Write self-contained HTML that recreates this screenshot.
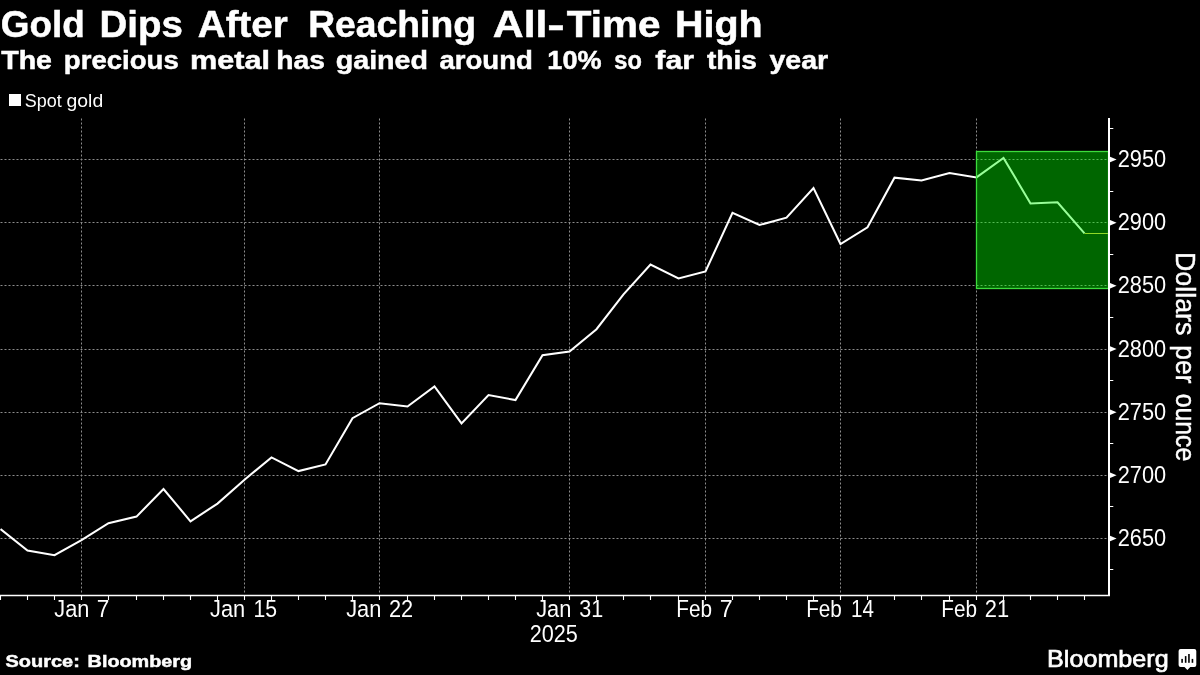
<!DOCTYPE html>
<html><head><meta charset="utf-8"><title>Gold Dips After Reaching All-Time High</title>
<style>
html,body{margin:0;padding:0;background:#000;}
body{width:1200px;height:675px;overflow:hidden;font-family:"Liberation Sans",sans-serif;}
svg{display:block;font-family:"Liberation Sans",sans-serif;}
</style></head>
<body>
<svg width="1200" height="675" viewBox="0 0 1200 675">
<rect width="1200" height="675" fill="#000"/>
<g stroke="#8c8c8c" stroke-width="1" stroke-dasharray="2 2" fill="none">
<line x1="81.5" y1="118.5" x2="81.5" y2="594.5"/>
<line x1="244.5" y1="118.5" x2="244.5" y2="594.5"/>
<line x1="379.5" y1="118.5" x2="379.5" y2="594.5"/>
<line x1="569.5" y1="118.5" x2="569.5" y2="594.5"/>
<line x1="705.5" y1="118.5" x2="705.5" y2="594.5"/>
<line x1="840.5" y1="118.5" x2="840.5" y2="594.5"/>
<line x1="976.5" y1="118.5" x2="976.5" y2="594.5"/>
<line x1="0.5" y1="159.5" x2="1108" y2="159.5"/>
<line x1="0.5" y1="222.5" x2="1108" y2="222.5"/>
<line x1="0.5" y1="285.5" x2="1108" y2="285.5"/>
<line x1="0.5" y1="349.5" x2="1108" y2="349.5"/>
<line x1="0.5" y1="412.5" x2="1108" y2="412.5"/>
<line x1="0.5" y1="475.5" x2="1108" y2="475.5"/>
<line x1="0.5" y1="538.5" x2="1108" y2="538.5"/>
</g>
<polyline points="0.5,529.0 27.5,550.5 54.5,555.2 81.5,540.2 108.5,523.2 136.5,516.6 163.5,489.0 190.5,521.3 217.5,503.6 244.5,479.7 271.5,457.4 298.5,471.1 325.5,464.4 352.5,418.2 379.5,403.2 407.5,406.5 434.5,386.4 461.5,423.4 488.5,395.1 515.5,400.1 542.5,355.3 569.5,351.6 596.5,329.2 623.5,294.4 650.5,264.6 678.5,278.4 705.5,271.5 732.5,212.8 759.5,225.0 786.5,217.7 813.5,188.0 840.5,244.0 867.5,227.3 894.5,177.7 921.5,180.5 949.5,173.1 976.5,177.4 1003.5,157.9 1030.5,203.4 1057.5,202.3 1084.5,233.3" fill="none" stroke="#fff" stroke-width="2.05" stroke-linejoin="miter" stroke-linecap="butt"/>
<line x1="1084.5" y1="233.5" x2="1108" y2="233.5" stroke="#f0c040" stroke-width="1"/>
<rect x="976.5" y="151.5" width="132" height="137" fill="rgba(0,255,0,0.4)" stroke="#3cdc3c" stroke-width="1.3"/>
<g stroke="#fff" fill="none">
<path d="M1109 118 V596.1" stroke-width="2"/>
<path d="M0 595.5 H1110" stroke-width="1.3"/>
<path d="M0.5 596 v4 M27.5 596 v4 M54.5 596 v4 M81.5 596 v4 M108.5 596 v4 M136.5 596 v4 M163.5 596 v4 M190.5 596 v4 M217.5 596 v4 M244.5 596 v4 M271.5 596 v4 M298.5 596 v4 M325.5 596 v4 M352.5 596 v4 M379.5 596 v4 M407.5 596 v4 M434.5 596 v4 M461.5 596 v4 M488.5 596 v4 M515.5 596 v4 M542.5 596 v4 M569.5 596 v4 M596.5 596 v4 M623.5 596 v4 M650.5 596 v4 M678.5 596 v4 M705.5 596 v4 M732.5 596 v4 M759.5 596 v4 M786.5 596 v4 M813.5 596 v4 M840.5 596 v4 M867.5 596 v4 M894.5 596 v4 M921.5 596 v4 M949.5 596 v4 M976.5 596 v4 M1003.5 596 v4 M1030.5 596 v4 M1057.5 596 v4 M1084.5 596 v4 " stroke-width="1.1"/>
<path d="M1110 128.5 h3.3 M1110 191.5 h3.3 M1110 254.5 h3.3 M1110 317.5 h3.3 M1110 380.5 h3.3 M1110 443.5 h3.3 M1110 506.5 h3.3 M1110 569.5 h3.3 " stroke-width="1.1"/>
</g>
<g fill="#fff"><path d="M1109.5 156.50 L1116.6 159.50 L1109.5 162.50 Z"/><path d="M1109.5 219.67 L1116.6 222.67 L1109.5 225.67 Z"/><path d="M1109.5 282.84 L1116.6 285.84 L1109.5 288.84 Z"/><path d="M1109.5 346.01 L1116.6 349.01 L1109.5 352.01 Z"/><path d="M1109.5 409.18 L1116.6 412.18 L1109.5 415.18 Z"/><path d="M1109.5 472.35 L1116.6 475.35 L1109.5 478.35 Z"/><path d="M1109.5 535.52 L1116.6 538.52 L1109.5 541.52 Z"/></g>
<rect x="9" y="94" width="12" height="12" fill="#fff"/>
<g fill="#fff" font-family="Liberation Sans, sans-serif" xml:space="preserve" opacity="0.999">
<text transform="translate(0.78,37.00) scale(0.9956,1)" font-size="37.03" font-weight="bold" stroke="#fff" stroke-width="0.5">Gold</text>
<text transform="translate(99.56,37.00) scale(1.0383,1)" font-size="37.03" font-weight="bold" stroke="#fff" stroke-width="0.5">Dips</text>
<text transform="translate(197.79,37.00) scale(1.0413,1)" font-size="37.03" font-weight="bold" stroke="#fff" stroke-width="0.5">After</text>
<text transform="translate(308.14,37.00) scale(1.0078,1)" font-size="37.03" font-weight="bold" stroke="#fff" stroke-width="0.5">Reaching</text>
<text transform="translate(492.87,37.00) scale(1.1535,1)" font-size="37.03" font-weight="bold" stroke="#fff" stroke-width="0.5">All</text>
<text transform="translate(547.27,37.00) scale(1.4043,1)" font-size="37.03" font-weight="bold" stroke="#fff" stroke-width="0.5">-</text>
<text transform="translate(566.85,37.00) scale(1.0921,1)" font-size="37.03" font-weight="bold" stroke="#fff" stroke-width="0.5">Time</text>
<text transform="translate(674.99,37.00) scale(1.0660,1)" font-size="37.03" font-weight="bold" stroke="#fff" stroke-width="0.5">High</text>
<text transform="translate(1.16,68.60) scale(1.0818,1)" font-size="26.45" font-weight="bold" stroke="#fff" stroke-width="0.5">The</text>
<text transform="translate(63.82,68.60) scale(1.0430,1)" font-size="26.45" font-weight="bold" stroke="#fff" stroke-width="0.5">precious</text>
<text transform="translate(190.10,68.60) scale(1.1587,1)" font-size="26.45" font-weight="bold" stroke="#fff" stroke-width="0.5">metal</text>
<text transform="translate(276.27,68.60) scale(1.0685,1)" font-size="26.45" font-weight="bold" stroke="#fff" stroke-width="0.5">has</text>
<text transform="translate(335.70,68.60) scale(1.0834,1)" font-size="26.45" font-weight="bold" stroke="#fff" stroke-width="0.5">gained</text>
<text transform="translate(439.42,68.60) scale(1.0423,1)" font-size="26.45" font-weight="bold" stroke="#fff" stroke-width="0.5">around</text>
<text transform="translate(547.33,68.60) scale(1.0240,1)" font-size="26.45" font-weight="bold" stroke="#fff" stroke-width="0.5">10%</text>
<text transform="translate(614.31,68.60) scale(0.8914,1)" font-size="26.45" font-weight="bold" stroke="#fff" stroke-width="0.5">so</text>
<text transform="translate(655.35,68.60) scale(1.1434,1)" font-size="26.45" font-weight="bold" stroke="#fff" stroke-width="0.5">far</text>
<text transform="translate(706.97,68.60) scale(1.0643,1)" font-size="26.45" font-weight="bold" stroke="#fff" stroke-width="0.5">this</text>
<text transform="translate(769.46,68.60) scale(1.0802,1)" font-size="26.45" font-weight="bold" stroke="#fff" stroke-width="0.5">year</text>
<text transform="translate(24.70,106.60) scale(0.9857,1)" font-size="18.26" font-weight="normal">Spot</text>
<text transform="translate(66.52,106.60) scale(1.0616,1)" font-size="18.26" font-weight="normal">gold</text>
<text transform="translate(5.45,667.45) scale(1.1484,1)" font-size="17.39" font-weight="bold" stroke="#fff" stroke-width="0.5">Source:</text>
<text transform="translate(87.56,667.45) scale(1.1411,1)" font-size="17.39" font-weight="bold" stroke="#fff" stroke-width="0.5">Bloomberg</text>
<text transform="translate(529.72,642.00) scale(0.9363,1)" font-size="23.12" font-weight="normal">2025</text>
<text transform="translate(54.26,616.90) scale(0.9415,1)" font-size="23.12" font-weight="normal">Jan</text>
<text transform="translate(96.87,616.90) scale(0.9781,1)" font-size="23.12" font-weight="normal">7</text>
<text transform="translate(210.06,616.90) scale(0.9444,1)" font-size="23.12" font-weight="normal">Jan</text>
<text transform="translate(253.40,616.90) scale(0.9176,1)" font-size="23.12" font-weight="normal">15</text>
<text transform="translate(346.16,616.90) scale(0.9444,1)" font-size="23.12" font-weight="normal">Jan</text>
<text transform="translate(389.01,616.90) scale(0.9423,1)" font-size="23.12" font-weight="normal">22</text>
<text transform="translate(536.16,616.90) scale(0.9444,1)" font-size="23.12" font-weight="normal">Jan</text>
<text transform="translate(579.24,616.90) scale(0.9331,1)" font-size="23.12" font-weight="normal">31</text>
<text transform="translate(676.24,616.90) scale(0.8976,1)" font-size="23.12" font-weight="normal">Feb</text>
<text transform="translate(719.74,616.90) scale(1.0063,1)" font-size="23.12" font-weight="normal">7</text>
<text transform="translate(806.14,616.90) scale(0.8976,1)" font-size="23.12" font-weight="normal">Feb</text>
<text transform="translate(851.05,616.90) scale(0.8912,1)" font-size="23.12" font-weight="normal">14</text>
<text transform="translate(941.24,616.90) scale(0.8976,1)" font-size="23.12" font-weight="normal">Feb</text>
<text transform="translate(984.81,616.90) scale(0.9466,1)" font-size="23.12" font-weight="normal">21</text>
<text transform="translate(1117.71,167.10) scale(0.9424,1)" font-size="23.12" font-weight="normal">2950</text>
<text transform="translate(1117.71,230.27) scale(0.9424,1)" font-size="23.12" font-weight="normal">2900</text>
<text transform="translate(1117.71,293.44) scale(0.9424,1)" font-size="23.12" font-weight="normal">2850</text>
<text transform="translate(1117.71,356.61) scale(0.9424,1)" font-size="23.12" font-weight="normal">2800</text>
<text transform="translate(1117.71,419.78) scale(0.9424,1)" font-size="23.12" font-weight="normal">2750</text>
<text transform="translate(1117.71,482.95) scale(0.9424,1)" font-size="23.12" font-weight="normal">2700</text>
<text transform="translate(1117.71,546.12) scale(0.9424,1)" font-size="23.12" font-weight="normal">2650</text>
<text transform="translate(1176.0249999999999,251.98) rotate(90) scale(0.9764,1)" font-size="27.46" stroke="#fff" stroke-width="0.45">Dollars</text>
<text transform="translate(1176.0249999999999,345.34) rotate(90) scale(0.9634,1)" font-size="27.46" stroke="#fff" stroke-width="0.45">per</text>
<text transform="translate(1176.0249999999999,393.73) rotate(90) scale(0.9027,1)" font-size="27.46" stroke="#fff" stroke-width="0.45">ounce</text>
<text transform="translate(1047.09,666.75) scale(1.0182,1)" font-size="24.71" stroke="#fff" stroke-width="0.7">Bloomberg</text>
</g>
<g>
<path d="M1180.6 649.1 h13.7 a2 2 0 0 1 2 2 v13.9 a2 2 0 0 1 -2 2 h-4 l-2.9 3 l-2.9 -3 h-3.9 a2 2 0 0 1 -2 -2 v-13.9 a2 2 0 0 1 2 -2 z" fill="#fff"/>
<g fill="#000">
<rect x="1181.3" y="658.9" width="1.6" height="3.9"/>
<rect x="1184.85" y="656.1" width="1.6" height="6.7"/>
<rect x="1188.15" y="654.0" width="1.6" height="8.8"/>
<rect x="1191.65" y="658.9" width="1.6" height="3.9"/>
</g>
</g>
</svg>
</body></html>
